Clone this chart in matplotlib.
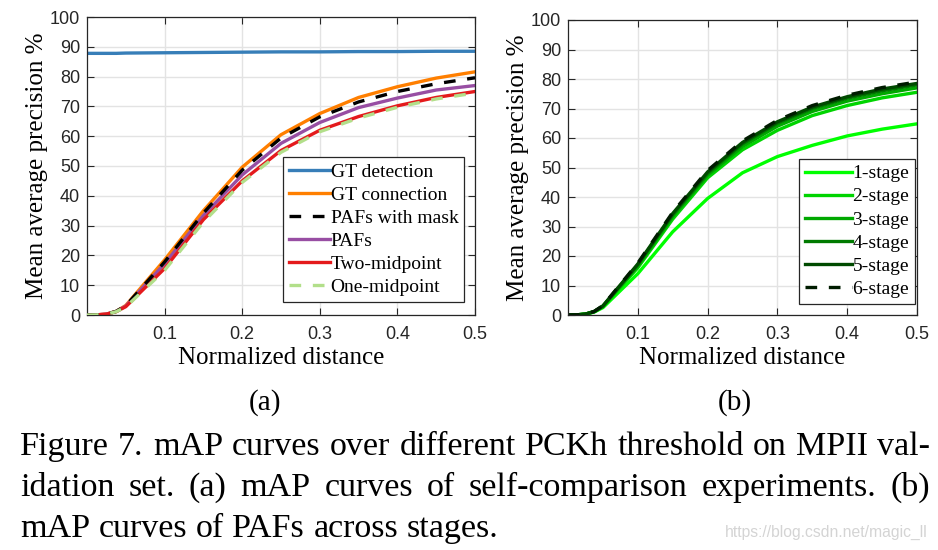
import matplotlib
matplotlib.use("Agg")
import matplotlib.pyplot as plt

# ---------------- data ----------------
x_dist = [0, 0.0125, 0.025, 0.0375, 0.05, 0.1, 0.15, 0.2, 0.25, 0.3, 0.35, 0.4, 0.45, 0.5]

gt_detection   = [87.8, 87.8, 87.8, 87.8, 87.9, 88.0, 88.1, 88.2, 88.3, 88.3, 88.4, 88.4, 88.5, 88.5]
gt_connection  = [0, 0.05, 0.3, 1.2, 3.2, 18.5, 35.0, 49.6, 60.5, 67.6, 73.0, 76.6, 79.5, 81.6]
pafs_mask      = [0, 0.05, 0.3, 1.2, 3.1, 17.8, 34.2, 48.6, 59.4, 66.5, 71.5, 75.0, 77.6, 79.6]
pafs           = [0, 0.05, 0.3, 1.2, 3.0, 17.2, 33.4, 47.0, 57.6, 64.6, 69.6, 72.8, 75.5, 77.0]
two_midpoint   = [0, 0.05, 0.3, 1.1, 2.8, 15.6, 32.0, 45.0, 55.2, 62.0, 66.6, 70.2, 73.0, 75.0]
one_midpoint   = [0, 0.05, 0.3, 1.1, 2.7, 15.0, 31.2, 44.5, 54.6, 61.5, 66.1, 69.7, 72.5, 74.5]

stage1 = [0, 0.05, 0.3, 1.0, 2.5, 14.0, 28.2, 39.5, 48.2, 53.7, 57.5, 60.7, 63.0, 64.8]
stage2 = [0, 0.05, 0.3, 1.1, 2.8, 16.0, 32.5, 46.5, 56.0, 62.6, 67.6, 71.0, 73.6, 75.5]
stage3 = [0, 0.05, 0.3, 1.1, 2.9, 16.6, 33.4, 47.4, 57.1, 64.0, 69.0, 72.5, 75.0, 77.0]
stage4 = [0, 0.05, 0.3, 1.2, 3.0, 17.0, 34.0, 48.0, 58.0, 65.0, 70.0, 73.5, 76.0, 78.0]
stage5 = [0, 0.05, 0.3, 1.2, 3.1, 17.3, 34.4, 48.5, 58.5, 65.5, 70.5, 74.0, 76.6, 78.5]
stage6 = [0, 0.05, 0.3, 1.2, 3.2, 17.6, 34.8, 49.0, 59.0, 66.0, 71.0, 74.5, 77.1, 79.0]

labels_a = ["GT detection", "GT connection", "PAFs with mask", "PAFs", "Two-midpoint", "One-midpoint"]
labels_b = ["1-stage", "2-stage", "3-stage", "4-stage", "5-stage", "6-stage"]
x_ticks = [0.1, 0.2, 0.3, 0.4, 0.5]
x_ticklabels = ["0.1", "0.2", "0.3", "0.4", "0.5"]
y_ticks = list(range(0, 101, 10))

caption_lines = [
    "Figure 7. mAP curves over different PCKh threshold on MPII val-",
    "idation set.  (a) mAP curves of self-comparison experiments.  (b)",
    "mAP curves of PAFs across stages.",
]

# ---------------- figure ----------------
W, H = 938, 550
fig = plt.figure(figsize=(W / 100, H / 100), dpi=100)
SERIF = ["Liberation Serif", "DejaVu Serif"]
SANS = ["Liberation Sans", "DejaVu Sans"]


def px_axes(x0, y0, x1, y1):
    return fig.add_axes([x0 / W, 1 - y1 / H, (x1 - x0) / W, (y1 - y0) / H])


def style(ax):
    ax.set_xlim(0, 0.5)
    ax.set_ylim(0, 100)
    ax.set_xticks(x_ticks)
    ax.set_xticklabels(x_ticklabels, family=SANS, fontsize=13)
    ax.set_yticks(y_ticks)
    ax.set_yticklabels([str(v) for v in y_ticks], family=SANS, fontsize=13)
    ax.tick_params(direction="in", length=5, width=0.8, top=True, right=True,
                   color="#262626", labelcolor="#262626", pad=5)
    ax.tick_params(axis="x", pad=8)
    ax.grid(True, color="#e3e3e3", linewidth=1.0)
    ax.set_axisbelow(True)
    for s in ax.spines.values():
        s.set_color("#262626")
        s.set_linewidth(0.9)
    ax.set_xlabel("Normalized distance", family=SERIF, fontsize=18, labelpad=3)
    ax.set_ylabel("Mean average precision %", family=SERIF, fontsize=18, labelpad=1)


lw = 2.4
ax1 = px_axes(87, 17, 475, 315)
ax1.plot(x_dist, gt_detection, color="#377eb8", lw=lw, label=labels_a[0])
ax1.plot(x_dist, gt_connection, color="#ff7f00", lw=lw, label=labels_a[1])
ax1.plot(x_dist, pafs_mask, color="black", lw=lw, ls=(0, (3.5, 3.5)), label=labels_a[2], zorder=5)
ax1.plot(x_dist, pafs, color="#984ea3", lw=lw, label=labels_a[3])
ax1.plot(x_dist, two_midpoint, color="#e41a1c", lw=lw, label=labels_a[4])
ax1.plot(x_dist, one_midpoint, color="#b2df8a", lw=lw, ls=(0, (3.5, 3.5)), label=labels_a[5], zorder=5)
style(ax1)
leg1 = ax1.legend(loc="upper left", bbox_to_anchor=(0.505, 0.53), prop={"family": SERIF, "size": 14},
                  frameon=True, fancybox=False, edgecolor="#262626", framealpha=1,
                  handlelength=2.1, handletextpad=0.05, labelspacing=0.28, borderpad=0.3,
                  borderaxespad=0)
leg1.get_frame().set_linewidth(0.9)

ax2 = px_axes(568, 20, 917, 315)
stage_colors = ["#00ff00", "#00d400", "#00a800", "#007a00", "#004a00", "#001c00"]
for vals, c, lab in zip([stage1, stage2, stage3, stage4, stage5], stage_colors[:5], labels_b[:5]):
    ax2.plot(x_dist, vals, color=c, lw=lw, label=lab)
ax2.plot(x_dist, stage6, color=stage_colors[5], lw=lw, ls=(0, (3.5, 3.5)), label=labels_b[5])
style(ax2)
leg2 = ax2.legend(loc="upper left", bbox_to_anchor=(0.662, 0.529), prop={"family": SERIF, "size": 14},
                  frameon=True, fancybox=False, edgecolor="#262626", framealpha=1,
                  handlelength=2.4, handletextpad=0.05, labelspacing=0.28, borderpad=0.3,
                  borderaxespad=0)
leg2.get_frame().set_linewidth(0.9)

fig.text(265 / W, 1 - 403 / H, "(a)", family=SERIF, fontsize=21, ha="center", va="center")
fig.text(735 / W, 1 - 403 / H, "(b)", family=SERIF, fontsize=21, ha="center", va="center")

# ---------------- caption (justified) ----------------
renderer = fig.canvas.get_renderer()
cap_size = 24.5
baselines = [455, 496, 537]
left, right = 20, 930
for i, (line, base) in enumerate(zip(caption_lines, baselines)):
    words = line.split()
    texts = [fig.text(0, 1 - base / H, w, family=SERIF, fontsize=cap_size, va="baseline", ha="left")
             for w in words]
    widths = [t.get_window_extent(renderer).width for t in texts]
    sp = fig.text(0, 0, "a a", family=SERIF, fontsize=cap_size)
    sa = fig.text(0, 0, "aa", family=SERIF, fontsize=cap_size)
    nat_gap = sp.get_window_extent(renderer).width - sa.get_window_extent(renderer).width
    sp.remove(); sa.remove()
    if i < len(caption_lines) - 1:
        gap = max((right - left - sum(widths)) / (len(words) - 1), 0.4 * nat_gap)
    else:
        gap = nat_gap
    xpos = left
    for t, w in zip(texts, widths):
        t.set_x(xpos / W)
        xpos += w + gap

fig.text(928 / W, 1 - 537 / H, "https://blog.csdn.net/magic_ll", family=SANS, fontsize=11.3,
         color="#d4d4d4", ha="right", va="baseline")

fig.savefig("out.png", dpi=100)
